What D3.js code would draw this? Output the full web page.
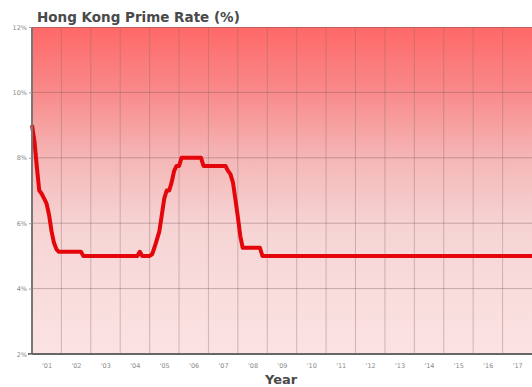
<!DOCTYPE html>
<html>
<head>
<meta charset="utf-8">
<script src="https://cdn.jsdelivr.net/npm/d3@7"></script>
<style>
  html, body { margin: 0; padding: 0; background: #fff; }
  svg { display: block; }
</style>
</head>
<body>
<svg id="chart" width="532" height="387"></svg>
<script>
// Hong Kong prime lending rate, monthly readings (year-month, percent)
const months = [
  "2001-01","2001-02","2001-03","2001-04","2001-05","2001-06","2001-07","2001-08",
  "2001-09","2001-10","2001-11","2001-12","2002-09","2002-10","2004-08","2004-09",
  "2004-10","2005-01","2005-02","2005-03","2005-04","2005-05","2005-06","2005-07",
  "2005-08","2005-09","2005-10","2005-11","2005-12","2006-01","2006-02","2006-10",
  "2006-11","2007-08","2007-09","2007-10","2007-11","2007-12","2008-01","2008-02",
  "2008-03","2008-10","2008-11","2018-01"
];
const rates = [
  9.0, 8.5, 7.75, 7.0, 6.9, 6.75, 6.6, 6.25,
  5.75, 5.4, 5.2, 5.125, 5.125, 5.0, 5.0, 5.125,
  5.0, 5.0, 5.05, 5.25, 5.5, 5.75, 6.25, 6.75,
  7.0, 7.0, 7.25, 7.6, 7.75, 7.75, 8.0, 8.0,
  7.75, 7.75, 7.6, 7.5, 7.25, 6.75, 6.2, 5.6,
  5.25, 5.25, 5.0, 5.0
];
const yearLabels = ["'01","'02","'03","'04","'05","'06","'07","'08","'09",
                    "'10","'11","'12","'13","'14","'15","'16","'17"];
const rateTicks = [2, 4, 6, 8, 10, 12];

const parse = d3.timeParse("%Y-%m");
const data = months.map((m, i) => ({ date: parse(m), rate: rates[i] }));

const svg = d3.select("#chart");
const plotL = 32, plotR = 532, plotT = 27, plotB = 354;

const x = d3.scaleTime()
  .domain([new Date(2001, 0, 1), new Date(2018, 0, 1)])
  .range([plotL, plotR]);
const y = d3.scaleLinear().domain([2, 12]).range([plotB, plotT]);

// Plot background: deep red at the top fading to pale pink
const defs = svg.append("defs");
const grad = defs.append("linearGradient")
  .attr("id", "bg").attr("x1", 0).attr("y1", 0).attr("x2", 0).attr("y2", 1);
[[0, "#ff6868"], [0.2, "#f98a8a"], [0.4, "#f5b6b6"], [0.6, "#f6d3d3"],
 [0.8, "#f9dcdc"], [1, "#fbe3e3"]]
  .forEach(([o, c]) => grad.append("stop").attr("offset", o).attr("stop-color", c));

svg.append("rect")
  .attr("x", plotL).attr("y", plotT)
  .attr("width", plotR - plotL).attr("height", plotB - plotT)
  .attr("fill", "url(#bg)");

// Year boundaries as vertical grid lines
const yearStarts = d3.range(2002, 2018).map(yr => new Date(yr, 0, 1));
svg.append("g")
  .selectAll("line").data(yearStarts).join("line")
  .attr("x1", d => x(d)).attr("x2", d => x(d))
  .attr("y1", plotT).attr("y2", plotB)
  .attr("stroke", "#8a6a6a").attr("stroke-opacity", 0.38).attr("stroke-width", 1);

// Horizontal grid lines at each labelled rate
svg.append("g")
  .selectAll("line").data(rateTicks.filter(t => t > 2 && t < 12)).join("line")
  .attr("x1", plotL).attr("x2", plotR)
  .attr("y1", d => y(d)).attr("y2", d => y(d))
  .attr("stroke", "#7a5a5a").attr("stroke-opacity", 0.4).attr("stroke-width", 1);

// Top border
svg.append("line")
  .attr("x1", plotL).attr("x2", plotR).attr("y1", plotT + 0.5).attr("y2", plotT + 0.5)
  .attr("stroke", "#a05858").attr("stroke-opacity", 0.6);

// Rate line
const line = d3.line()
  .x(d => x(d.date))
  .y(d => y(d.rate));
svg.append("path")
  .datum(data)
  .attr("fill", "none")
  .attr("stroke", "#e4060a")
  .attr("stroke-width", 4)
  .attr("stroke-linejoin", "round")
  .attr("d", line);

// Axis lines
svg.append("line")
  .attr("x1", plotL).attr("x2", plotL).attr("y1", plotT).attr("y2", plotB + 1)
  .attr("stroke", "#777").attr("stroke-width", 2);
svg.append("line")
  .attr("x1", plotL - 4).attr("x2", plotR).attr("y1", plotB).attr("y2", plotB)
  .attr("stroke", "#666").attr("stroke-width", 2);

// Y tick labels
const yAxis = d3.axisLeft(y).tickValues(rateTicks).tickFormat(d => d + "%")
  .tickSize(3).tickPadding(2);
const gy = svg.append("g").attr("transform", `translate(${plotL},0)`).call(yAxis);
gy.select(".domain").remove();
gy.selectAll(".tick line").attr("stroke", "#999");
gy.selectAll("text")
  .attr("fill", "#8a8a8a").attr("font-family", "DejaVu Sans, Verdana, sans-serif")
  .attr("font-size", 6.5);

// X tick labels centred in each year band
const mids = d3.range(2001, 2018).map(yr => new Date(yr, 6, 1));
const xAxis = d3.axisBottom(x).tickValues(mids)
  .tickFormat((d, i) => yearLabels[i]).tickSize(0).tickPadding(9);
const gx = svg.append("g").attr("transform", `translate(0,${plotB})`).call(xAxis);
gx.select(".domain").remove();
gx.selectAll("text")
  .attr("fill", "#8a8a8a").attr("font-family", "DejaVu Sans, Verdana, sans-serif")
  .attr("font-size", 6.5);

// Title and axis title
svg.append("text")
  .attr("x", 37).attr("y", 22)
  .attr("font-family", "DejaVu Sans, Verdana, sans-serif")
  .attr("font-weight", "bold").attr("font-size", 13.5)
  .attr("fill", "#4a4a4a")
  .text("Hong Kong Prime Rate (%)");

svg.append("text")
  .attr("x", 265).attr("y", 384)
  .attr("font-family", "DejaVu Sans, Verdana, sans-serif")
  .attr("font-weight", "bold").attr("font-size", 13)
  .attr("fill", "#4a4a4a")
  .text("Year");
</script>
</body>
</html>
